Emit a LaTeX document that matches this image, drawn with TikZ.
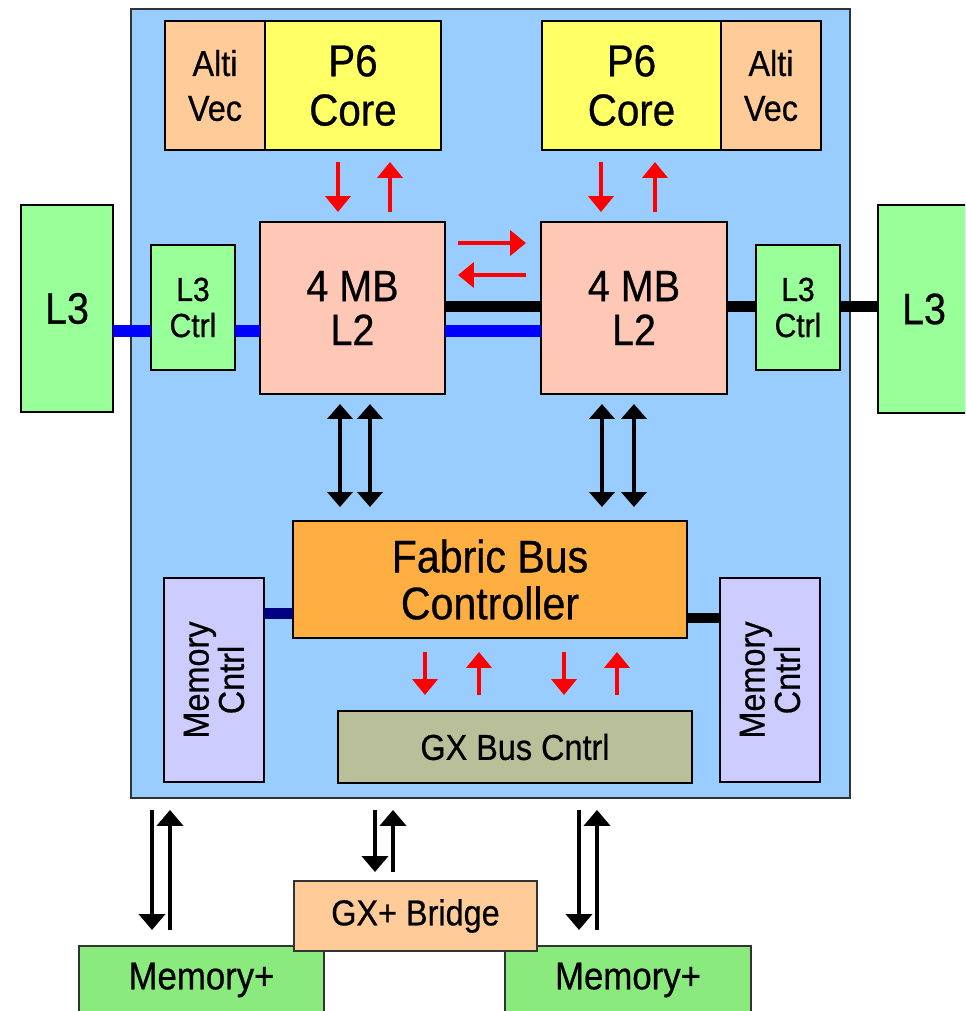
\documentclass[tikz,border=0pt]{standalone}
\usepackage{fontspec}
\setmainfont{Liberation Sans}[FakeStretch=0.9, FakeBold=0.6]
\usepackage{tikz}
\usetikzlibrary{arrows.meta,positioning,calc}
\definecolor{chipBlue}{HTML}{99CCFF}
\definecolor{lThree}{HTML}{99FF99}
\definecolor{lTwo}{HTML}{FFC8B6}
\definecolor{altiVec}{HTML}{FFCC99}
\definecolor{pSix}{HTML}{FFFF66}
\definecolor{fabric}{HTML}{FFAF42}
\definecolor{memCtrl}{HTML}{CCCCFF}
\definecolor{gxBus}{HTML}{B8BF99}
\definecolor{gxBridge}{HTML}{FFCC99}
\definecolor{memPlus}{HTML}{8AEA7E}
\definecolor{navyBar}{HTML}{000080}
\newcommand{\coreFont}{\fontsize{25.5}{28}\selectfont}
\newcommand{\ltwoFont}{\fontsize{25}{25}\selectfont}
\newcommand{\altiFont}{\fontsize{20.5}{25.5}\selectfont}
\newcommand{\ctrlFont}{\fontsize{19}{20.5}\selectfont}
\newcommand{\fabFont}{\fontsize{26}{26.7}\selectfont}
\newcommand{\gxFont}{\fontsize{20.5}{22}\selectfont}
\newcommand{\memFont}{\fontsize{22}{24}\selectfont}
\newcommand{\mcFont}{\fontsize{20.5}{18}\selectfont}
\tikzset{
  box/.style={rectangle, draw=black, line width=1.1pt, outer sep=0pt, inner sep=0pt, align=center},
  redarrow/.style={-{Triangle[width=5mm,length=3.2mm]}, line width=2.3pt, draw=red},
  busarrow/.style={{Triangle[width=5mm,length=3mm]}-{Triangle[width=5mm,length=3mm]}, line width=2.4pt, draw=black},
  memarrow/.style={-{Triangle[width=5.2mm,length=3.2mm]}, line width=2.8pt, draw=black},
  bluebar/.style={line width=6.8pt, draw=blue},
  blackbar/.style={line width=6.8pt, draw=black},
  navybar/.style={line width=6pt, draw=navyBar}
}

\begin{document}
\begin{tikzpicture}[x=0.02cm, y=-0.02cm]
  \clip (0,0) rectangle (965,1011);
  \node[box, fill=chipBlue, draw=black!80, line width=0.8pt, minimum width=14.38cm, minimum height=15.78cm] (chip) at (490.5,403.5) {};
  \node[box, fill=lThree, minimum width=1.84cm, minimum height=4.14cm, font=\ltwoFont] (l3a) at (67,308.5) {L3};
  \node[box, fill=lThree, minimum width=1.84cm, minimum height=4.16cm, font=\ltwoFont] (l3b) at (924,309) {L3};
  \node[box, fill=lThree, minimum width=1.68cm, minimum height=2.5cm, font=\ctrlFont] (l3ca) at (193,307.5) {L3\\Ctrl};
  \node[box, fill=lThree, minimum width=1.68cm, minimum height=2.5cm, font=\ctrlFont] (l3cb) at (798,307.5) {L3\\Ctrl};
  \node[box, fill=lTwo, minimum width=3.7cm, minimum height=3.44cm, font=\ltwoFont] (l2a) at (352.5,308) {4 MB\\L2};
  \node[box, fill=lTwo, minimum width=3.72cm, minimum height=3.44cm, font=\ltwoFont] (l2b) at (634,308) {4 MB\\L2};
  \node[box, fill=altiVec, minimum width=2cm, minimum height=2.58cm, font=\altiFont] (ava) at (215,85.5) {Alti\\Vec};
  \node[box, fill=pSix, right=0pt of ava, minimum width=3.52cm, minimum height=2.58cm, font=\coreFont] (p6a) {P6\\Core};
  \node[box, fill=pSix, minimum width=3.58cm, minimum height=2.58cm, font=\coreFont] (p6b) at (631.5,85.5) {P6\\Core};
  \node[box, fill=altiVec, right=0pt of p6b, minimum width=2cm, minimum height=2.58cm, font=\altiFont] (avb) {Alti\\Vec};
  \node[box, fill=fabric, minimum width=7.88cm, minimum height=2.34cm, font=\fabFont] (fbc) at (490,579.5) {Fabric Bus\\Controller};
  \node[box, fill=memCtrl, minimum width=2cm, minimum height=4.08cm] (mca) at (214,680) {};
  \node[box, fill=memCtrl, minimum width=2cm, minimum height=4.08cm] (mcb) at (770,680) {};
  \node[rotate=90, align=center, font=\mcFont] (mcatxt) at (mca.center) {Memory\\Cntrl};
  \node[rotate=90, align=center, font=\mcFont] (mcbtxt) at (mcb.center) {Memory\\Cntrl};
  \node[box, fill=gxBus, minimum width=7.08cm, minimum height=1.44cm, font=\gxFont] (gxc) at (515,747) {GX Bus Cntrl};
  \node[box, fill=memPlus, draw=black!80, line width=0.8pt, minimum width=4.9cm, minimum height=1.36cm, font=\memFont] (mema) at (201.5,980) {Memory+};
  \node[box, fill=memPlus, draw=black!80, line width=0.8pt, minimum width=4.92cm, minimum height=1.36cm, font=\memFont] (memb) at (628,980) {Memory+};
  \node[box, fill=gxBridge, draw=black!80, line width=0.8pt, minimum width=4.86cm, minimum height=1.4cm, font=\gxFont] (gxb) at (415.5,916) {GX+ Bridge};

  \coordinate (busblue) at (0,331);
  \coordinate (busblack) at (0,306.5);
  \coordinate (memnavy) at (0,613.5);
  \coordinate (memblack) at (0,618);
  \draw[bluebar] (l3a.east |- busblue) -- (l3ca.west |- busblue);
  \draw[bluebar] (l3ca.east |- busblue) -- (l2a.west |- busblue);
  \draw[bluebar] (l2a.east |- busblue) -- (l2b.west |- busblue);
  \draw[blackbar] (l2a.east |- busblack) -- (l2b.west |- busblack);
  \draw[blackbar] (l2b.east |- busblack) -- (l3cb.west |- busblack);
  \draw[blackbar] (l3cb.east |- busblack) -- (l3b.west |- busblack);
  \draw[navybar] (mca.east |- memnavy) -- (fbc.west |- memnavy);
  \draw[blackbar, line width=5.5pt] (fbc.east |- memblack) -- (mcb.west |- memblack);

  \draw[redarrow] ($(p6a.south)+(-15,12)$) -- ($(p6a.south |- l2a.north)+(-15,-10)$);
  \draw[redarrow] ($(p6a.south |- l2a.north)+(37,-10)$) -- ($(p6a.south)+(37,12)$);
  \draw[redarrow] ($(p6b.south)+(-30.5,12)$) -- ($(p6b.south |- l2b.north)+(-30.5,-10)$);
  \draw[redarrow] ($(p6b.south |- l2b.north)+(23.5,-10)$) -- ($(p6b.south)+(23.5,12)$);
  \draw[redarrow] ($(l2a.north east)+(13,21)$) -- ($(l2b.north west)+(-15,21)$);
  \draw[redarrow] ($(l2b.north west)+(-15,53)$) -- ($(l2a.north east)+(13,53)$);

  \draw[busarrow] ($(l2a.south)+(-12.5,10)$) -- ($(l2a.south |- fbc.north)+(-12.5,-14)$);
  \draw[busarrow] ($(l2a.south)+(17.5,10)$) -- ($(l2a.south |- fbc.north)+(17.5,-14)$);
  \draw[busarrow] ($(l2b.south)+(-32,10)$) -- ($(l2b.south |- fbc.north)+(-32,-14)$);
  \draw[busarrow] ($(l2b.south)+(0,10)$) -- ($(l2b.south |- fbc.north)+(0,-14)$);

  \draw[redarrow] ($(fbc.south)+(-65,14)$) -- ($(fbc.south |- gxc.north)+(-65,-16)$);
  \draw[redarrow] ($(fbc.south |- gxc.north)+(-11,-16)$) -- ($(fbc.south)+(-11,14)$);
  \draw[redarrow] ($(fbc.south)+(74,14)$) -- ($(fbc.south |- gxc.north)+(74,-16)$);
  \draw[redarrow] ($(fbc.south |- gxc.north)+(127,-16)$) -- ($(fbc.south)+(127,14)$);

  \draw[memarrow] ($(mema.north |- chip.south)+(-49.5,12)$) -- ($(mema.north)+(-49.5,-16)$);
  \draw[memarrow] ($(mema.north)+(-31.5,-16)$) -- ($(mema.north |- chip.south)+(-31.5,12)$);
  \draw[memarrow] ($(gxb.north |- chip.south)+(-40.5,12)$) -- ($(gxb.north)+(-40.5,-9)$);
  \draw[memarrow] ($(gxb.north)+(-22.5,-9)$) -- ($(gxb.north |- chip.south)+(-22.5,12)$);
  \draw[memarrow] ($(memb.north |- chip.south)+(-49,12)$) -- ($(memb.north)+(-49,-16)$);
  \draw[memarrow] ($(memb.north)+(-31,-16)$) -- ($(memb.north |- chip.south)+(-31,12)$);
\end{tikzpicture}
\end{document}
